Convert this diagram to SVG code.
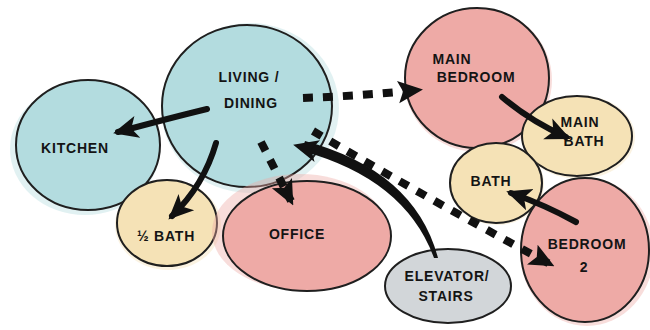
<svg xmlns="http://www.w3.org/2000/svg" width="650" height="330" viewBox="0 0 650 330">
  <style>
    .outline { stroke: #1f1f1f; stroke-width: 2; }
    .blue { fill: #b3dcdf; }
    .pink { fill: #eeaaa6; }
    .yellow { fill: #f5e2b6; }
    .gray { fill: #d2d6d9; }
    .wash { opacity: 0.4; }
    .label { font-family: "Liberation Sans", "DejaVu Sans", sans-serif; font-size: 14px; font-weight: bold; fill: #141414; letter-spacing: 0.8px; text-anchor: middle; }
    .solid { fill: none; stroke: #111; stroke-width: 6; stroke-linecap: round; }
    .dashed { fill: none; stroke: #111; stroke-width: 8; stroke-dasharray: 10 10; }
    .taper { fill: #111; stroke: none; }
    .guide { fill: none; stroke: none; }
  </style>
  <defs>
    <marker id="head" viewBox="0 0 20 20" refX="16" refY="10" markerWidth="25" markerHeight="25" markerUnits="userSpaceOnUse" orient="auto">
      <path d="M0,1 L20,10 L0,19 L5,10 z" fill="#111"/>
    </marker>
    <marker id="dhead" viewBox="0 0 20 20" refX="16" refY="10" markerWidth="25" markerHeight="25" markerUnits="userSpaceOnUse" orient="auto">
      <path d="M0,1 L20,10 L0,19 L4,10 z" fill="#111"/>
    </marker>
  </defs>

  <rect width="650" height="330" fill="#ffffff"/>

  <g id="kitchen">
    <ellipse class="blue wash" cx="85" cy="149" rx="75" ry="66"/>
    <ellipse class="blue outline" cx="88" cy="145" rx="72" ry="65"/>
    <text class="label" x="75" y="153">KITCHEN</text>
  </g>

  <g id="living-dining">
    <ellipse class="blue wash" cx="250" cy="108" rx="89" ry="85"/>
    <ellipse class="blue outline" cx="247" cy="106" rx="85" ry="81"/>
    <text class="label" x="249" y="82">LIVING /</text>
    <text class="label" x="251" y="108">DINING</text>
  </g>

  <g id="half-bath">
    <ellipse class="yellow wash" cx="168" cy="225" rx="53" ry="45"/>
    <ellipse class="yellow outline" cx="167" cy="223" rx="50" ry="43"/>
    <text class="label" x="166" y="241">½ BATH</text>
  </g>

  <g id="office">
    <ellipse class="pink wash" cx="300" cy="232" rx="88" ry="58"/>
    <ellipse class="pink outline" cx="307" cy="236" rx="84" ry="55"/>
    <text class="label" x="297" y="239">OFFICE</text>
  </g>

  <g id="main-bedroom">
    <ellipse class="pink wash" cx="478" cy="80" rx="74" ry="72"/>
    <ellipse class="pink outline" cx="477" cy="78" rx="72" ry="70"/>
    <text class="label" x="452" y="64">MAIN</text>
    <text class="label" x="476" y="82">BEDROOM</text>
  </g>

  <g id="main-bath">
    <ellipse class="yellow wash" cx="579" cy="137" rx="56" ry="42"/>
    <ellipse class="yellow outline" cx="577" cy="136" rx="55" ry="40"/>
    <text class="label" x="580" y="127">MAIN</text>
    <text class="label" x="584" y="146">BATH</text>
  </g>

  <g id="bath">
    <ellipse class="yellow wash" cx="497" cy="184" rx="47" ry="41"/>
    <ellipse class="yellow outline" cx="496" cy="183" rx="46" ry="40"/>
    <text class="label" x="491" y="186">BATH</text>
  </g>

  <g id="bedroom-2">
    <ellipse class="pink wash" cx="587" cy="252" rx="67" ry="74"/>
    <ellipse class="pink outline" cx="585" cy="250" rx="64" ry="72"/>
    <text class="label" x="587" y="249">BEDROOM</text>
    <text class="label" x="584" y="272">2</text>
  </g>

  <g id="elevator-stairs">
    <ellipse class="gray outline" cx="448" cy="286" rx="63" ry="37"/>
    <text class="label" x="447" y="281">ELEVATOR/</text>
    <text class="label" x="446" y="301">STAIRS</text>
  </g>

  <g id="connectors">
    <path class="solid" d="M207,109 Q170,118 118,132" marker-end="url(#head)"/>
    <path class="solid" d="M216,143 Q204,185 172,216" marker-end="url(#head)"/>
    <path class="dashed" d="M261,142 L291,201" marker-end="url(#dhead)"/>
    <path class="dashed" d="M303,98 Q360,96 418,90" marker-end="url(#dhead)"/>
    <path class="dashed" d="M313,131 Q430,200 550,264" marker-end="url(#dhead)"/>
    <path class="taper" d="M438,258 Q415,171 305,141 L302,151 Q405,179 434,258 Z"/>
    <path class="guide" d="M436,258 Q410,175 298,146" marker-end="url(#head)"/>
    <path class="solid" d="M502,97 Q530,121 566,137" marker-end="url(#head)"/>
    <path class="solid" d="M576,222 Q545,205 511,193" marker-end="url(#head)"/>
  </g>
</svg>
